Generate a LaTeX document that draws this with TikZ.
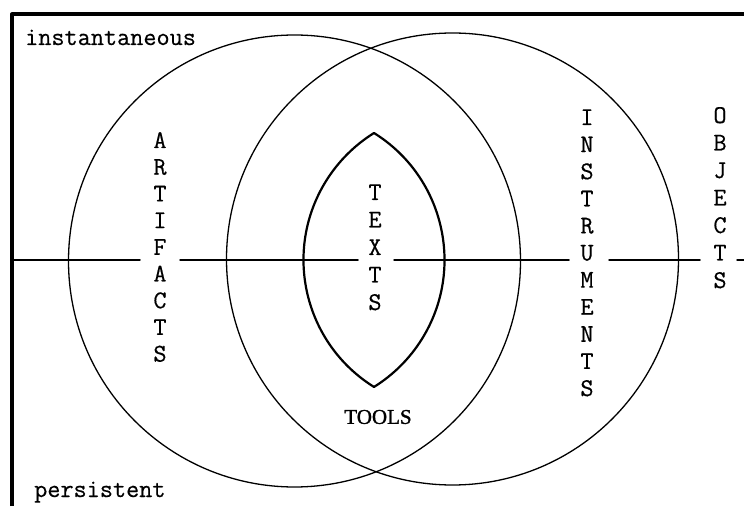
\documentclass[tikz,border=0pt]{standalone}
\usepackage{fontspec}
\newfontfamily\typewriterfont[FakeBold=0.5]{Latin Modern Mono}
\newfontfamily\labelfont[FakeBold=1.4]{Liberation Serif}

\begin{document}
\begin{tikzpicture}[x=1pt, y=1pt, line cap=round, line join=round,
    letter/.style={inner sep=0pt, text height=16pt, text depth=0pt,
      font=\typewriterfont\fontsize{25.5}{28}\selectfont},
    word/.style={inner sep=0pt, font=\typewriterfont\fontsize{25.5}{28}\selectfont}]

  \useasboundingbox (0,0) rectangle (744,506);

  % Parameters
  \def\R{226}       % radius of the two big circles
  \def\Rl{149.6}    % radius of the lens arcs
  \def\ax{58.08}    % half angle of the lens arcs
  \def\hy{246}      % height of the horizontal axis

  % --- Frame (left and top only) ---
  \draw[line width=4pt, line cap=butt] (12,0) -- (12,491.5) -- (744,491.5);

  % --- The two big circles ---
  \coordinate (Lc) at (294.5,245);
  \coordinate (Rc) at (452.5,247);
  \draw[line width=1.3pt] (Lc) circle (\R);
  \draw[line width=1.3pt] (Rc) circle (\R);

  % --- Lens in the middle ---
  \coordinate (lenstop) at (374,373);
  \draw[line width=2.2pt] (lenstop)
    arc[start angle=\ax, end angle=-\ax, radius=\Rl]
    arc[start angle=180+\ax, end angle=180-\ax, radius=\Rl] -- cycle;

  % --- Vertical words ---
  \foreach \c [count=\i from 0] in {A,R,T,I,F,A,C,T,S}
    \node[letter] (art\i) at (160,366-26.7*\i) {\c};
  \foreach \c [count=\i from 0] in {T,E,X,T,S}
    \node[letter] (txt\i) at (375,314-27.5*\i) {\c};
  \foreach \c [count=\i from 0] in {I,N,S,T,R,U,M,E,N,T,S}
    \node[letter] (ins\i) at (587,389-27.1*\i) {\c};
  \foreach \c [count=\i from 0] in {O,B,J,E,C,T,S}
    \node[letter] (obj\i) at (720,391-27.5*\i) {\c};

  % --- Horizontal axis, broken at the words ---
  \draw[line width=1.5pt] (12,\hy) -- (140,\hy);
  \draw[line width=1.5pt] (180,\hy) -- (358,\hy);
  \draw[line width=1.5pt] (394,\hy) -- (569,\hy);
  \draw[line width=1.5pt] (609,\hy) -- (700,\hy);
  \draw[line width=1.5pt] (737,\hy) -- (744,\hy);

  % --- Corner labels ---
  \node[word, anchor=base west] (inst) at (25,461) {instantaneous};
  \node[word, anchor=base west] (pers) at (34,9) {persistent};
  \node[inner sep=0pt, font=\labelfont\fontsize{21}{24}\selectfont] (tools) at (378,89) {TOOLS};

\end{tikzpicture}
\end{document}
